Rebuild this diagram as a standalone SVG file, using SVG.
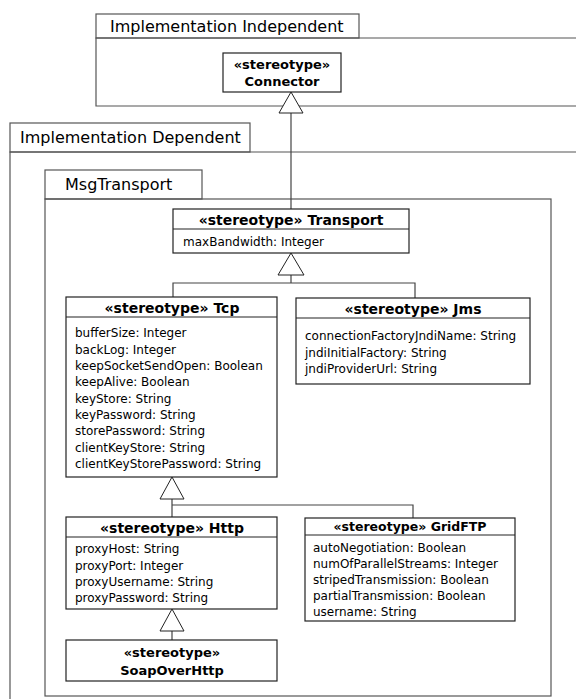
<svg xmlns="http://www.w3.org/2000/svg" width="576" height="699" viewBox="0 0 576 699">
<style>
.fr{fill:none;stroke:#555;stroke-width:1.2}
.bx{fill:#fff;stroke:#222;stroke-width:1.2}
.ln{fill:none;stroke:#444;stroke-width:1.2}
.tri{fill:#fff;stroke:#222;stroke-width:1}
.ft{font-family:"DejaVu Sans",sans-serif;font-size:16px;fill:#000}
.tt{font-family:"DejaVu Sans",sans-serif;font-size:14px;font-weight:bold;fill:#000;text-anchor:middle}
.ts{font-family:"DejaVu Sans",sans-serif;font-size:13px;font-weight:bold;fill:#000;text-anchor:middle}
.at{font-family:"DejaVu Sans",sans-serif;font-size:12px;fill:#000}
</style>
<rect width="576" height="699" fill="#fff"/>
<g id="frame-independent">
<path class="fr" d="M576,38 H96 V106 H576"/>
<rect class="fr" x="96" y="14" width="263" height="24"/>
<text class="ft" x="110" y="32">Implementation Independent</text>
</g>
<g id="frame-dependent">
<path class="fr" d="M576,152 H10 V699"/>
<rect class="fr" x="10" y="123" width="240" height="29"/>
<text class="ft" x="20" y="143">Implementation Dependent</text>
</g>
<g id="frame-msgtransport">
<rect class="fr" x="45" y="199" width="506" height="497"/>
<rect class="fr" x="45" y="170" width="157" height="29"/>
<text class="ft" x="65" y="190">MsgTransport</text>
</g>
<g id="connectors">
<line class="ln" x1="291" y1="113" x2="291" y2="209"/>
<polygon class="tri" points="291,92 279,113 303,113"/>
<path class="ln" d="M291,275 V283 M173,297 V283 H415 V298"/>
<polygon class="tri" points="291,253 278,275 304,275"/>
<path class="ln" d="M172,499 V517 M172,505 H413 V518"/>
<polygon class="tri" points="172,477 160,499 184,499"/>
<path class="ln" d="M172,631 V640"/>
<polygon class="tri" points="172,609 160,631 184,631"/>
</g>
<g id="node-connector">
<rect class="bx" x="223" y="53" width="118" height="39"/>
<text class="ts" x="282" y="69">«stereotype»</text>
<text class="ts" x="282" y="86">Connector</text>
</g>
<g id="node-transport">
<rect class="bx" x="173" y="209" width="236" height="44"/>
<line class="bx" x1="173" y1="229" x2="409" y2="229"/>
<text class="tt" x="291" y="225">«stereotype» Transport</text>
<text class="at" x="183" y="246">maxBandwidth: Integer</text>
</g>
<g id="node-tcp">
<rect class="bx" x="66" y="297" width="211" height="180"/>
<line class="bx" x1="66" y1="317" x2="277" y2="317"/>
<text class="tt" x="172" y="313">«stereotype» Tcp</text>
<text class="at" x="75" y="337">bufferSize: Integer</text>
<text class="at" x="75" y="354">backLog: Integer</text>
<text class="at" x="75" y="370">keepSocketSendOpen: Boolean</text>
<text class="at" x="75" y="386">keepAlive: Boolean</text>
<text class="at" x="75" y="403">keyStore: String</text>
<text class="at" x="75" y="419">keyPassword: String</text>
<text class="at" x="75" y="435">storePassword: String</text>
<text class="at" x="75" y="452">clientKeyStore: String</text>
<text class="at" x="75" y="468">clientKeyStorePassword: String</text>
</g>
<g id="node-jms">
<rect class="bx" x="296" y="298" width="234" height="86"/>
<line class="bx" x1="296" y1="318" x2="530" y2="318"/>
<text class="tt" x="413" y="314">«stereotype» Jms</text>
<text class="at" x="305" y="340">connectionFactoryJndiName: String</text>
<text class="at" x="305" y="357">jndiInitialFactory: String</text>
<text class="at" x="305" y="373">jndiProviderUrl: String</text>
</g>
<g id="node-http">
<rect class="bx" x="66" y="517" width="211" height="92"/>
<line class="bx" x1="66" y1="537" x2="277" y2="537"/>
<text class="tt" x="172" y="533">«stereotype» Http</text>
<text class="at" x="75" y="553">proxyHost: String</text>
<text class="at" x="75" y="570">proxyPort: Integer</text>
<text class="at" x="75" y="586">proxyUsername: String</text>
<text class="at" x="75" y="602">proxyPassword: String</text>
</g>
<g id="node-gridftp">
<rect class="bx" x="305" y="518" width="210" height="103"/>
<line class="bx" x1="305" y1="535" x2="515" y2="535"/>
<text class="tt" x="410" y="531" style="font-size:12.5px">«stereotype» GridFTP</text>
<text class="at" x="313" y="552">autoNegotiation: Boolean</text>
<text class="at" x="313" y="568">numOfParallelStreams: Integer</text>
<text class="at" x="313" y="584">stripedTransmission: Boolean</text>
<text class="at" x="313" y="600">partialTransmission: Boolean</text>
<text class="at" x="313" y="616">username: String</text>
</g>
<g id="node-soapoverhttp">
<rect class="bx" x="66" y="640" width="211" height="41"/>
<text class="ts" x="172" y="657">«stereotype»</text>
<text class="ts" x="172" y="675">SoapOverHttp</text>
</g>
</svg>
